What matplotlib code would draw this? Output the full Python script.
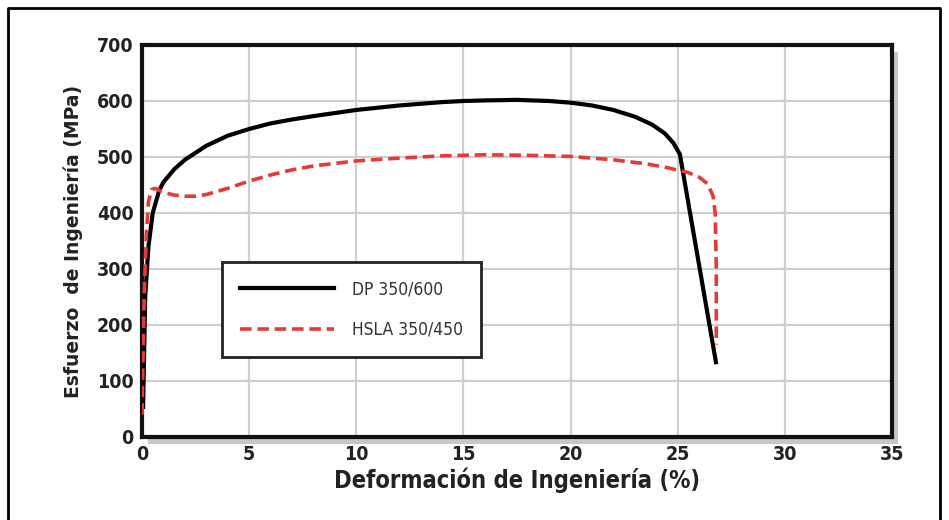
import matplotlib
matplotlib.use("Agg")
import matplotlib.pyplot as plt
from matplotlib.patches import Rectangle
from matplotlib.lines import Line2D

# DP 350/600 (black solid)
dp_strain = [0.05, 0.15, 0.3, 0.5, 0.8, 1.0, 1.5, 2.0, 3.0, 4.0, 5.0, 6.0, 7.0, 8.0, 10.0,
             12.0, 14.0, 15.0, 16.0, 17.5, 19.0, 20.0, 21.0, 22.0, 23.0, 23.8, 24.4, 24.8,
             25.1, 26.8]
dp_stress = [50, 250, 340, 400, 440, 455, 478, 495, 520, 538, 550, 560, 567, 573, 584,
             592, 598, 600, 601, 602, 600, 597, 592, 584, 572, 558, 542, 525,
             505, 130]

# HSLA 350/450 (red dashed)
hsla_strain = [0.0, 0.1, 0.2, 0.3, 0.45, 0.6, 1.0, 1.5, 2.0, 2.5, 3.0, 4.0, 5.0, 6.0,
               7.0, 8.0, 10.0, 12.0, 14.0, 16.0, 18.0, 20.0, 22.0, 23.5, 24.5, 25.5,
               26.0, 26.4, 26.65, 26.75, 26.8, 26.8]
hsla_stress = [40, 250, 360, 420, 442, 444, 437, 432, 430, 430, 433, 444, 457, 468,
               477, 484, 493, 498, 502, 504, 503, 501, 495, 488, 481, 472,
               464, 452, 430, 400, 300, 165]

x_ticks = [0, 5, 10, 15, 20, 25, 30, 35]
y_ticks = [0, 100, 200, 300, 400, 500, 600, 700]
labels = ["DP 350/600", "HSLA 350/450"]

fig = plt.figure(figsize=(9.49, 5.2), dpi=100)
fig.patch.set_facecolor("white")

ax_left, ax_bottom = 142 / 949, 1 - 437 / 520
ax_w, ax_h = (892 - 142) / 949, (437 - 45) / 520

# shadow behind plot frame
fig.patches.append(Rectangle((ax_left + 6 / 949, ax_bottom - 7 / 520), ax_w, ax_h,
                             transform=fig.transFigure, facecolor="#9a9a9a",
                             edgecolor="none", alpha=0.55, zorder=0))

ax = fig.add_axes([ax_left, ax_bottom, ax_w, ax_h])
ax.set_zorder(1)
ax.set_facecolor("white")

ax.plot(dp_strain, dp_stress, color="black", linewidth=3, solid_capstyle="butt", zorder=3)
ax.plot(hsla_strain, hsla_stress, color="#e63a36", linewidth=2.6,
        linestyle=(0, (3.2, 1.6)), zorder=4)

ax.set_xlim(0, 35)
ax.set_ylim(0, 700)
ax.set_xticks(x_ticks)
ax.set_yticks(y_ticks)
ax.grid(True, color="#cfcfcf", linewidth=1.6)
ax.set_axisbelow(True)
ax.tick_params(length=0, pad=6)
for lab in ax.get_xticklabels() + ax.get_yticklabels():
    lab.set_fontsize(14)
    lab.set_fontweight("bold")
    lab.set_fontstretch("condensed")
    lab.set_color("#222222")

for sp in ax.spines.values():
    sp.set_linewidth(3)
    sp.set_color("#111111")

ax.set_xlabel("Deformación de Ingeniería (%)", fontsize=17, fontweight="bold",
              fontstretch="condensed", color="#222222", labelpad=2)
ax.set_ylabel("Esfuerzo  de Ingeniería (MPa)", fontsize=13.5, fontweight="bold",
              color="#222222", labelpad=10)

handles = [Line2D([], [], color="black", linewidth=3),
           Line2D([], [], color="#e63a36", linewidth=2.6, linestyle=(0, (3.2, 1.6)))]
leg = ax.legend(handles, labels, loc="upper left", bbox_to_anchor=(0.107, 0.446),
                frameon=True, fancybox=False, edgecolor="#222222", framealpha=1,
                fontsize=12.5, handlelength=5.4, handletextpad=1.0,
                borderpad=1.05, labelspacing=1.3, borderaxespad=0)
leg.get_frame().set_linewidth(2)
for t in leg.get_texts():
    t.set_color("#333333")
    t.set_fontstretch("condensed")

# outer border of the picture
fig.add_artist(Line2D([8 / 949, 8 / 949, 940 / 949, 940 / 949],
                      [0, 1 - 8 / 520, 1 - 8 / 520, 0],
                      transform=fig.transFigure, color="black", linewidth=2))

fig.savefig("out.png", dpi=100)
plt.close(fig)
